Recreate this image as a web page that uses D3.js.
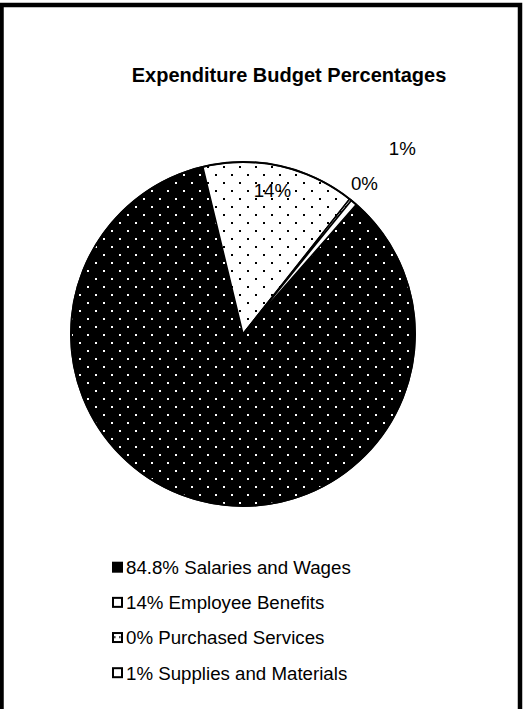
<!DOCTYPE html>
<html>
<head>
<meta charset="utf-8">
<script src="https://cdn.jsdelivr.net/npm/d3@7"></script>
<style>
  html, body { margin: 0; padding: 0; background: #fff; }
  svg { display: block; }
  text { font-family: "Liberation Sans", Arial, Helvetica, sans-serif; fill: #000; }
</style>
</head>
<body>
<script>
// Expenditure categories (legend names carry their share) and slice values (%)
const categories = [
  "84.8% Salaries and Wages",
  "14% Employee Benefits",
  "0% Purchased Services",
  "1% Supplies and Materials"
];
const values = [84.8, 14.4, 0.2, 0.6];
const chartTitle = "Expenditure Budget Percentages";

const W = 524, H = 709;
const svg = d3.select("body").append("svg").attr("width", W).attr("height", H);

// Fill patterns: dotted black, dotted white, fine dots, plain white
const defs = svg.append("defs");
function dotPattern(id, bg, fg, size, dots, d) {
  const p = defs.append("pattern").attr("id", id)
    .attr("patternUnits", "userSpaceOnUse").attr("width", size).attr("height", size);
  p.append("rect").attr("width", size).attr("height", size).attr("fill", bg);
  dots.forEach(([x, y]) => p.append("rect").attr("x", x).attr("y", y)
    .attr("width", d).attr("height", d).attr("fill", fg));
}
dotPattern("fill-salaries", "#000", "#fff", 16, [[4, 0], [12, 8]], 2);
dotPattern("fill-benefits", "#fff", "#000", 16, [[4, 0], [12, 8]], 2);
dotPattern("fill-services", "#fff", "#000", 5, [[2, 2]], 1.6);
const fills = d3.scaleOrdinal().domain(categories)
  .range(["url(#fill-salaries)", "url(#fill-benefits)", "url(#fill-services)", "#fff"]);

// Outer frame
svg.append("rect").attr("x", 1.5).attr("y", 5).attr("width", 518.5).attr("height", H + 20)
  .attr("fill", "none").attr("stroke", "#000").attr("stroke-width", 4.5);

// Title
svg.append("text").attr("x", 289).attr("y", 82).attr("text-anchor", "middle")
  .attr("font-weight", "bold").attr("font-size", 20).text(chartTitle);

// Pie
const cx = 243, cy = 334, R = 172;
const firstSliceAngle = 41.2 * Math.PI / 180;
const pie = d3.pie().sort(null).value(d => d.value)
  .startAngle(firstSliceAngle).endAngle(firstSliceAngle + 2 * Math.PI);
const data = categories.map((c, i) => ({ name: c, value: values[i] }));
const arcs = pie(data);
const arc = d3.arc().innerRadius(0).outerRadius(R);

const g = svg.append("g").attr("transform", `translate(${cx},${cy})`);
g.selectAll("path.slice").data(arcs).join("path").attr("class", "slice")
  .attr("d", arc)
  .attr("fill", d => fills(d.data.name))
  .attr("stroke", "#000").attr("stroke-width", 1.5).attr("stroke-linejoin", "round");
g.append("circle").attr("r", R).attr("fill", "none").attr("stroke", "#000").attr("stroke-width", 2);

// Data labels: rounded percentage of the total; small slices pushed outward
const total = d3.sum(values);
const labelRadius = { 1: 0.85, 2: 1.12, 3: 1.41 };
const labelShift = { 1: -2, 2: 1, 3: 3 };
g.selectAll("text.lbl").data(arcs.filter(d => d.index > 0)).join("text").attr("class", "lbl")
  .attr("font-size", 18.7).attr("text-anchor", "middle")
  .each(function (d) {
    const r = R * labelRadius[d.index];
    const a = (d.startAngle + d.endAngle) / 2;
    const la = d3.arc().innerRadius(r).outerRadius(r);
    const [x, y] = la.centroid({ startAngle: a, endAngle: a });
    d3.select(this).attr("x", x + labelShift[d.index]).attr("y", y + 6)
      .text(Math.round(d.value / total * 100) + "%");
  });

// Legend
const rowY = d3.scalePoint().domain(categories).range([574, 679.5]);
const leg = svg.append("g");
const rows = leg.selectAll("g").data(categories).join("g")
  .attr("transform", d => `translate(112,${rowY(d)})`);
rows.append("rect").attr("x", 1).attr("y", -11.3).attr("width", 9).attr("height", 9)
  .attr("fill", d => fills(d)).attr("stroke", "#000").attr("stroke-width", 2);
rows.append("text").attr("x", 14).attr("y", 0).attr("font-size", 18.7).text(d => d);
</script>
</body>
</html>
